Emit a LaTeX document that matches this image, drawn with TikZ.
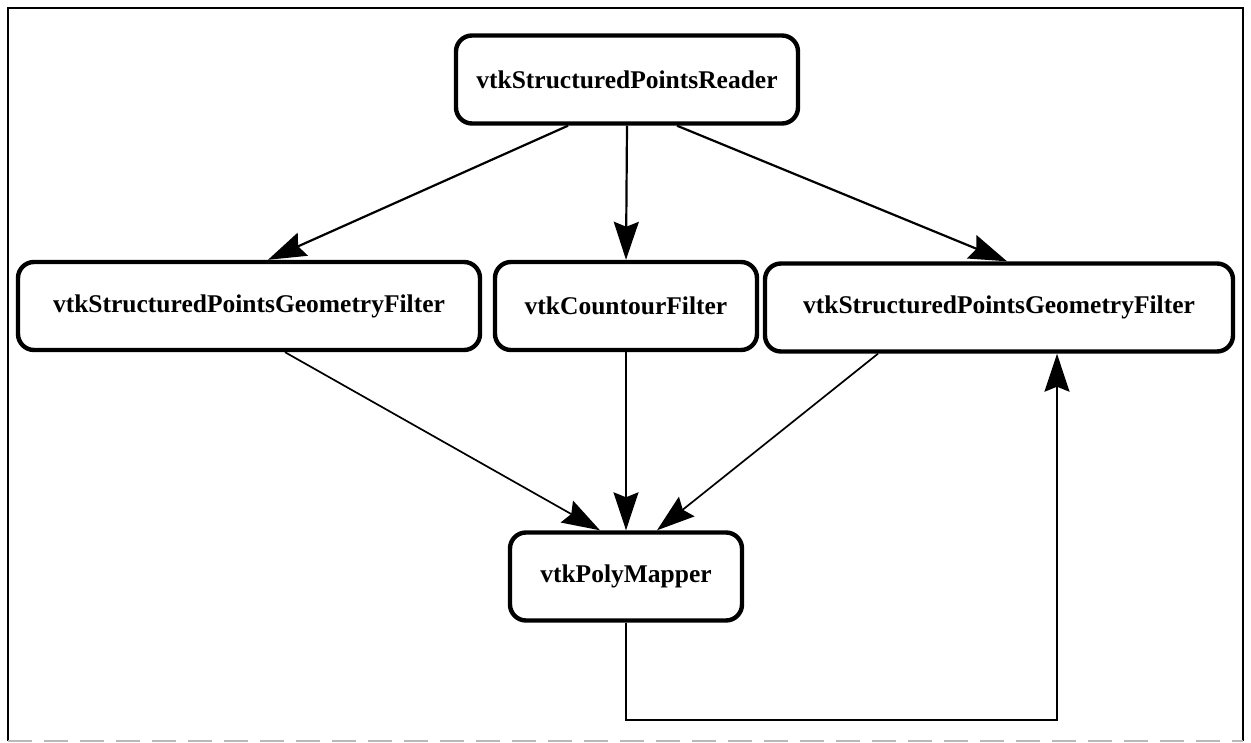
\documentclass[tikz,border=0pt]{standalone}
\usepackage{fontspec}
\setmainfont{Liberation Serif}
\usetikzlibrary{arrows.meta}

\tikzset{
  block/.style={draw, line width=4.4pt, rounded corners=16pt, inner sep=0pt,
    minimum height=88pt, font=\fontsize{25.5}{30}\selectfont\bfseries},
  arr/.style={line width=2.2pt, -{Stealth[length=38pt, width=25pt, inset=5pt]}},
  thinarr/.style={arr, line width=1.7pt},
}

\begin{document}
\begin{tikzpicture}[x=1pt, y=-1pt]
    \useasboundingbox (0, 0) rectangle (1251, 743);
    % frame
    \draw[line width=2.8pt] (8, 741) -- (8, 8) -- (1243, 8) -- (1243, 741);
    \draw[gray!55, line width=2pt, dash pattern=on 24pt off 12pt] (8, 741) -- (1243, 741);
    % boxes
    \node[block, minimum width=342pt] (reader) at (627, 79.5) {vtkStructuredPointsReader};
    \node[block, minimum width=462pt] (geomleft) at (249, 306) {vtkStructuredPointsGeometryFilter};
    \node[block, minimum width=262pt] (contour) at (626, 306) {vtkCountourFilter};
    \node[block, minimum width=468pt] (geomright) at (999, 307.5) {vtkStructuredPointsGeometryFilter};
    \node[block, minimum width=232pt] (mapper) at (626, 576.5) {vtkPolyMapper};
    % connectors
    \draw[arr] ([xshift=-59pt]reader.south) -- ([xshift=19pt]geomleft.north);
    \draw[arr] (reader.south) -- (contour.north);
    \draw[arr] ([xshift=50pt]reader.south) -- ([xshift=8pt]geomright.north);
    \draw[thinarr] ([xshift=36pt]geomleft.south) -- ([xshift=-26pt]mapper.north);
    \draw[thinarr] (contour.south) -- (mapper.north);
    \draw[thinarr] ([xshift=-121pt]geomright.south) -- ([xshift=31pt]mapper.north);
    \coordinate (loop) at (1057, 720);
    \draw[thinarr] (mapper.south) |- (loop) -- ([xshift=58pt]geomright.south);
\end{tikzpicture}
\end{document}
